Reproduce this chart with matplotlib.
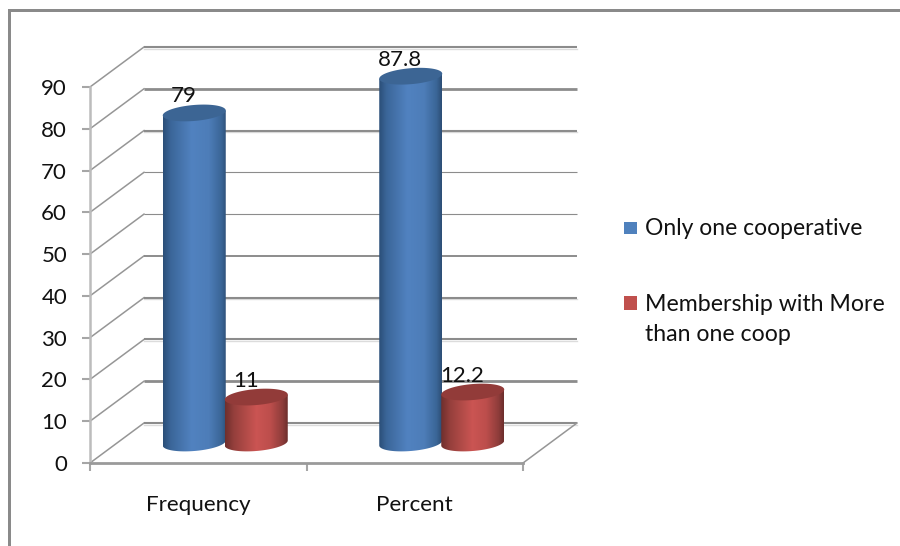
import numpy as np
import matplotlib
matplotlib.use("Agg")
import matplotlib.pyplot as plt
from matplotlib.colors import LinearSegmentedColormap
from matplotlib.patches import PathPatch, Rectangle
from matplotlib.path import Path

plt.rcParams["font.family"] = ["Lato", "DejaVu Sans"]

categories = ["Frequency", "Percent"]
series_names = ["Only one cooperative", "Membership with More\nthan one coop"]
only_one = [79, 87.8]
more_than_one = [11, 12.2]
value_ticks = [0, 10, 20, 30, 40, 50, 60, 70, 80, 90]

W, H = 900, 546
LEFT, RIGHT, BOTTOM, TOP = 90, 523, 463, 87   # front plane of the plot, pixels
DEPTH_X, DEPTH_Y = 54, 40                     # how far the back wall is shifted

GRID = "#8c8c8c"
AXIS = "#a6a6a6"
TEXT = "#111111"

# line weight of each wall line, and whether it has a pale edge under it
wall_width = {0: 1.5, 10: 2.0, 20: 1.5, 30: 1.5, 40: 1.4, 50: 0.8, 60: 0.8, 70: 1.5, 80: 2.0, 90: 1.5}
pale_edge = [0, 20, 30, 70, 90]

fig = plt.figure(figsize=(W / 100, H / 100), dpi=100)
ax = fig.add_axes([LEFT / W, 1 - BOTTOM / H, (RIGHT - LEFT) / W, (BOTTOM - TOP) / H])
ax.set_xlim(0, 2)
ax.set_ylim(0, 90)
ax.patch.set_visible(False)

px_x = 2 / (RIGHT - LEFT)      # data units for one pixel
px_y = 90 / (BOTTOM - TOP)
dx = DEPTH_X * px_x
dy = DEPTH_Y * px_y

# back wall and side wall lines
for v in value_ticks:
    ax.plot([0, dx], [v, v + dy], color="#969696", lw=1.1, clip_on=False, zorder=1)
    ax.plot([dx, 2 + dx], [v + dy, v + dy], color=GRID, lw=wall_width[v], clip_on=False, zorder=1,
            solid_capstyle="butt")
    if v in pale_edge:
        ax.plot([dx, 2 + dx], [v + dy - 1.6 * px_y] * 2, color="#dcdcdc", lw=1.0, clip_on=False, zorder=0.9)
ax.plot([2, 2 + dx], [0, dy], color="#969696", lw=1.1, clip_on=False, zorder=1)

ax.set_yticks(value_ticks)
ax.set_xticks([0, 1, 2])
ax.set_xticklabels([])
ax.set_xticks([0.5, 1.5], minor=True)
ax.set_xticklabels(categories, minor=True)
ax.tick_params(axis="x", which="minor", length=0, pad=23, labelsize=16.2, labelcolor=TEXT)
ax.tick_params(axis="x", which="major", length=6, width=1.5, color=AXIS)
ax.tick_params(axis="y", length=6, width=1.5, color=AXIS, pad=10.5, labelsize=16, labelcolor=TEXT)
for side in ["top", "right"]:
    ax.spines[side].set_visible(False)
ax.spines["left"].set_color("#bcbcbc")
ax.spines["left"].set_linewidth(1.8)
ax.spines["bottom"].set_color("#9a9a9a")
ax.spines["bottom"].set_linewidth(2.0)


def cylinder(x_pos, value, stops, top_colour):
    # x_pos is on the front axis, the bar stands half way into the depth
    cx = x_pos + dx / 2
    a = 31.5 * px_x
    b = 8 * px_y
    tilt = 2.5 * px_y
    y0 = dy / 2
    y1 = value + dy / 2

    t = np.linspace(np.pi, 2 * np.pi, 60)
    low_x = cx + a * np.cos(t)
    low_y = y0 + b * np.sin(t) + tilt * np.cos(t)
    verts = [(cx - a, y1 - tilt)] + list(zip(low_x, low_y)) + [(cx + a, y1 + tilt)]
    body = PathPatch(Path(verts + [verts[0]]), fc="none", ec="none", transform=ax.transData)
    ax.add_patch(body)

    cmap = LinearSegmentedColormap.from_list("shade", stops)
    img = ax.imshow(np.linspace(0, 1, 128).reshape(1, -1), cmap=cmap, aspect="auto",
                    extent=[cx - a, cx + a, y0 - b - tilt, y1 + tilt], zorder=3, interpolation="bilinear")
    img.set_clip_box(fig.bbox)
    img.set_clip_path(body)

    t = np.linspace(0, 2 * np.pi, 80)
    ax.fill(cx + a * np.cos(t), y1 + b * np.sin(t) + tilt * np.cos(t), color=top_colour, lw=0,
            clip_on=False, zorder=3.1)
    ax.annotate(f"{value:g}", (cx, y1), xytext=(-10.5 * 0.72, 16.5 * 0.72), textcoords="offset points",
                ha="center", va="center", fontsize=16, color=TEXT, zorder=4, annotation_clip=False)


blue_stops = [(0, "#2b4f78"), (0.12, "#3b6699"), (0.45, "#5182c0"), (0.72, "#4d7db8"),
              (0.92, "#3a6596"), (1, "#2d4e75")]
red_stops = [(0, "#6f2f2d"), (0.14, "#953f3c"), (0.5, "#cb5553"), (0.72, "#bd4e4c"),
             (0.92, "#8d3c3a"), (1, "#6c2e2c")]

bar_shift = 31 * px_x
for i in range(len(categories)):
    cylinder(i + 0.5 - bar_shift, only_one[i], blue_stops, "#3c6594")
    cylinder(i + 0.5 + bar_shift, more_than_one[i], red_stops, "#923b39")

ax.set_xlim(0, 2)
ax.set_ylim(0, 90)


def pixel_box(x0, y0, x1, y1, colour):
    fig.add_artist(Rectangle((x0 / W, 1 - y1 / H), (x1 - x0) / W, (y1 - y0) / H, fc=colour, ec="none",
                             transform=fig.transFigure))


# legend
pixel_box(624, 222, 637, 234, "#4f81bd")
pixel_box(624, 296, 637, 310, "#c0504d")
fig.text(645 / W, 1 - 228 / H, series_names[0], fontsize=16.5, color=TEXT, va="center", ha="left")
fig.text(645 / W, 1 - 319.5 / H, series_names[1], fontsize=16.7, color=TEXT, va="center", ha="left", linespacing=1.5)

# outer frame
pixel_box(8, 9, 900, 12, "#8a8a8a")
pixel_box(8, 9, 11, 546, "#8a8a8a")

fig.savefig("out.png", dpi=100)
